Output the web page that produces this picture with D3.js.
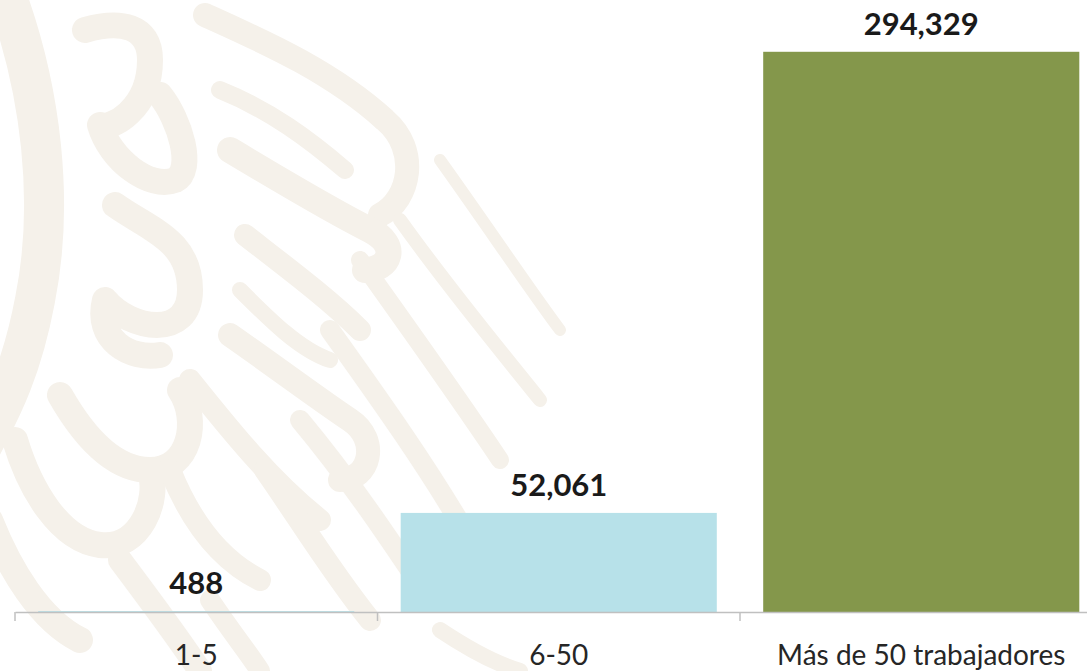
<!DOCTYPE html>
<html>
<head>
<meta charset="utf-8">
<script src="https://cdn.jsdelivr.net/npm/d3@7"></script>
<style>
  html, body { margin: 0; padding: 0; background: #ffffff; }
  svg { display: block; }
</style>
</head>
<body>
<div id="chart"></div>
<script>
// Data
const categories = ['1-5', '6-50', 'Más de 50 trabajadores'];
const values = [488, 52061, 294329];
const barColors = ['#b7e1e9', '#b7e1e9', '#84974b'];

const W = 1087, H = 671;
const svg = d3.select('#chart')
    .append('svg')
    .attr('width', W)
    .attr('height', H);

// Faint background watermark (decorative)
const deco = svg.append('g')
    .attr('fill', 'none')
    .attr('stroke', '#f5f1ea')
    .attr('stroke-linecap', 'round')
    .attr('stroke-linejoin', 'round');
const decoPaths = [
    ['M8,0 C40,90 55,200 35,300 C20,380 -5,420 -20,450', 40],
    ['M85,30 C120,20 150,25 150,60 C150,110 110,130 100,125 C110,160 150,190 175,180 C195,170 180,120 160,95', 26],
    ['M115,205 C150,230 190,240 190,290 C190,340 130,330 105,300 C95,340 130,360 160,355', 26],
    ['M205,15 C260,40 330,70 385,120 C420,150 410,200 380,215', 24],
    ['M220,90 C270,110 310,140 345,170', 18],
    ['M230,150 C280,180 330,210 370,230 C400,245 390,270 365,270', 26],
    ['M245,235 C290,270 330,300 360,330', 22],
    ['M240,290 C270,320 300,350 330,360', 16],
    ['M230,335 C280,370 320,400 350,420 C380,440 370,480 340,480', 24],
    ['M60,395 C80,430 110,470 150,470 C190,470 200,420 180,390', 26],
    ['M15,440 C30,490 60,540 100,545 C140,550 160,500 150,470', 26],
    ['M-10,520 C10,570 40,620 80,640', 26],
    ['M170,470 C190,520 220,560 260,580', 22],
    ['M190,380 C230,430 270,480 320,520', 22],
    ['M265,470 C300,520 330,570 370,620', 22],
    ['M300,420 C350,480 390,540 430,600', 20],
    ['M330,330 C380,400 430,470 470,540', 20],
    ['M360,260 C410,330 460,400 500,460', 18],
    ['M400,220 C450,290 500,350 540,400', 14],
    ['M440,160 C490,230 530,290 560,330', 12],
    ['M120,560 C150,600 180,640 200,671', 24],
    ['M210,600 C230,630 250,655 260,671', 20],
    ['M440,630 C470,650 500,665 520,671', 16]
];
deco.selectAll('path')
    .data(decoPaths)
    .enter()
    .append('path')
    .attr('d', d => d[0])
    .attr('stroke-width', d => d[1]);

// Scales
const x = d3.scaleBand()
    .domain(categories)
    .range([15, 1102.5])
    .paddingInner(0)
    .paddingOuter(0);

const y = d3.scaleLinear()
    .domain([0, 300000])
    .range([612, 41]);

const barFrac = 0.872;
const barW = x.bandwidth() * barFrac;

// Bars
svg.selectAll('.bar')
    .data(categories)
    .enter()
    .append('rect')
    .attr('class', 'bar')
    .attr('x', (d) => x(d) + (x.bandwidth() - barW) / 2)
    .attr('y', (d, i) => y(values[i]))
    .attr('width', barW)
    .attr('height', (d, i) => y(0) - y(values[i]))
    .attr('fill', (d, i) => barColors[i]);

// Value labels
const fmt = d3.format(',');
svg.selectAll('.value-label')
    .data(categories)
    .enter()
    .append('text')
    .attr('class', 'value-label')
    .attr('x', d => x(d) + x.bandwidth() / 2)
    .attr('y', (d, i) => y(values[i]) - 17)
    .attr('text-anchor', 'middle')
    .style('font-family', 'Lato, "Open Sans", sans-serif')
    .style('font-weight', 'bold')
    .style('font-size', '31px')
    .style('fill', '#1a1a1a')
    .text((d, i) => fmt(values[i]));

// X axis
const axis = svg.append('g')
    .attr('transform', `translate(0,${y(0)})`)
    .call(d3.axisBottom(x).tickSize(0).tickSizeOuter(0).tickPadding(33));

axis.select('.domain')
    .attr('stroke', '#c0c0c0')
    .attr('stroke-width', 1.5);

axis.selectAll('text')
    .style('font-family', 'Lato, "Open Sans", sans-serif')
    .style('font-size', '28px')
    .style('fill', '#262626');

// Category boundary ticks
const bounds = categories.map(c => x(c)).concat([x.range()[1]]);
axis.selectAll('.bound-tick')
    .data(bounds)
    .enter()
    .append('line')
    .attr('class', 'bound-tick')
    .attr('x1', d => d)
    .attr('x2', d => d)
    .attr('y1', 0)
    .attr('y2', 9)
    .attr('stroke', '#c0c0c0')
    .attr('stroke-width', 1.5);
</script>
</body>
</html>
